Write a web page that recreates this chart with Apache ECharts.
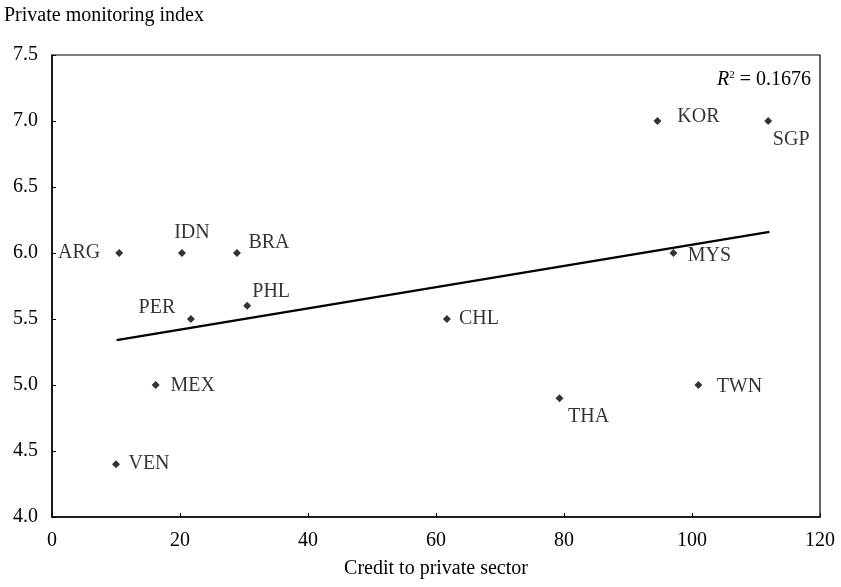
<!DOCTYPE html>
<html>
<head>
<meta charset="utf-8">
<script src="https://cdn.jsdelivr.net/npm/echarts@6/dist/echarts.min.js"></script>
<style>
html,body{margin:0;padding:0;background:#fff;}
#chart{width:841px;height:587px;}
</style>
</head>
<body>
<div id="chart"></div>
<script>
// ---- data ----
const countries = ['ARG','IDN','BRA','PER','PHL','CHL','MEX','VEN','THA','TWN','MYS','KOR','SGP'];
const creditToPrivate = [10.5, 20.3, 28.9, 21.7, 30.5, 61.7, 16.2, 10.0, 79.3, 101.0, 97.1, 94.6, 111.9];
const monitoringIndex = [6.0, 6.0, 6.0, 5.5, 5.6, 5.5, 5.0, 4.4, 4.9, 5.0, 6.0, 7.0, 7.0];
const trendX = [10.1, 112.1];
const trendY = [5.34, 6.16];
const rSquared = '0.1676';
const xTicks = [0, 20, 40, 60, 80, 100, 120];
const yTicks = [4.0, 4.5, 5.0, 5.5, 6.0, 6.5, 7.0, 7.5];
const xTitle = 'Credit to private sector';
const yTitle = 'Private monitoring index';

// ---- label placement (style, not data) ----
const labelOffset = {
  ARG: [-40, 0], IDN: [10, -20], BRA: [32, -10], PER: [-34, -11], PHL: [24, -14],
  CHL: [32, 0], MEX: [37, 1], VEN: [33, 0], THA: [29, 19], TWN: [41, 2],
  MYS: [36, 3], KOR: [41, -4], SGP: [23, 19]
};

const FONT = '"Liberation Serif", "DejaVu Serif", serif';
const FS = 20;

const points = countries.map((c, i) => ({
  name: c,
  value: [creditToPrivate[i], monitoringIndex[i]],
  label: {
    show: true,
    position: 'inside',
    offset: labelOffset[c],
    formatter: '{b}',
    color: '#000',
    textBorderWidth: 0,
    textBorderColor: 'transparent',
    fontFamily: FONT,
    fontSize: FS
  }
}));

const chart = echarts.init(document.getElementById('chart'), null, {renderer: 'canvas'});
chart.setOption({
  animation: false,
  backgroundColor: '#fff',
  textStyle: {fontFamily: FONT, color: '#000'},
  grid: {left: 52, right: 21, top: 55, bottom: 70, show: true, borderColor: '#000', borderWidth: 1.2, backgroundColor: 'transparent'},
  xAxis: {
    type: 'value',
    min: xTicks[0], max: xTicks[xTicks.length - 1], interval: 20,
    name: xTitle, nameLocation: 'middle', nameGap: 42,
    nameTextStyle: {fontFamily: FONT, fontSize: FS, color: '#000'},
    axisLine: {show: true, lineStyle: {color: '#000', width: 1.5}},
    axisTick: {show: true, inside: true, length: 4, lineStyle: {color: '#000', width: 1}},
    axisLabel: {margin: 14, fontFamily: FONT, fontSize: FS, color: '#000'},
    splitLine: {show: false}
  },
  yAxis: {
    type: 'value',
    min: yTicks[0], max: yTicks[yTicks.length - 1], interval: 0.5,
    axisLine: {show: true, lineStyle: {color: '#000', width: 1.5}},
    axisTick: {show: true, inside: true, length: 4, lineStyle: {color: '#000', width: 1}},
    axisLabel: {margin: 14, fontFamily: FONT, fontSize: FS, color: '#000', formatter: v => v.toFixed(1)},
    splitLine: {show: false}
  },
  graphic: [
    {type: 'text', left: 4, top: 6, style: {text: yTitle, font: FS + 'px ' + FONT, fill: '#000'}},
    {type: 'text', right: 30, top: 70, style: {
      text: '{i|R}{s|2}{n| = ' + rSquared + '}',
      rich: {
        i: {fontFamily: FONT, fontSize: FS, fontStyle: 'italic', color: '#000'},
        s: {fontFamily: FONT, fontSize: 11, verticalAlign: 'top', color: '#000', padding: [0, 0, 8, 0]},
        n: {fontFamily: FONT, fontSize: FS, color: '#000'}
      }
    }}
  ],
  series: [
    {
      type: 'line',
      data: trendX.map((x, i) => [x, trendY[i]]),
      showSymbol: false,
      symbol: 'none',
      lineStyle: {color: '#000', width: 2.5},
      z: 2
    },
    {
      type: 'scatter',
      data: points,
      symbol: 'diamond',
      symbolSize: 8,
      itemStyle: {color: '#000'},
      z: 3
    }
  ]
});
</script>
</body>
</html>
